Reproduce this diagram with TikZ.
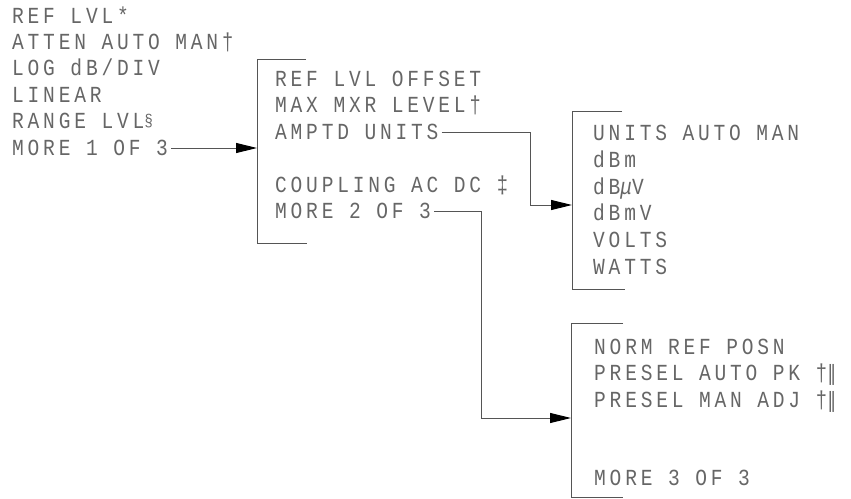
\documentclass[tikz,border=0pt]{standalone}
\usepackage{fontspec}
\setmainfont{Liberation Mono}[LetterSpace=16.5,FakeStretch=0.85]
\newfontfamily\dbar{DejaVu Sans}[FakeStretch=0.85]
\usetikzlibrary{arrows.meta,calc}
\definecolor{ink}{HTML}{666666}
\definecolor{lineink}{HTML}{555555}
\tikzset{
  lbl/.style={anchor=base west, inner sep=0pt, font=\fontsize{23}{23}\selectfont, text=ink},
  wire/.style={draw=lineink, line width=1pt},
  arr/.style={wire, -{Triangle[length=21pt,width=10pt,color=black]}},
}
\newcommand{\dblbar}{{\dbar\fontsize{21}{21}\selectfont ‖}}
\begin{document}
\begin{tikzpicture}[x=1pt,y=-1pt]
\useasboundingbox (0,0) rectangle (851,498);
% column 1
\node[lbl] (c1a) at (12,23)    {REF LVL*};
\node[lbl] (c1b) at (12,49.4)  {ATTEN AUTO MAN†};
\node[lbl] (c1c) at (12,75.8)  {LOG dB/DIV};
\node[lbl] (c1d) at (12,102.2) {LINEAR};
\node[lbl] (c1e) at (12,128.6) {RANGE LVL\raisebox{2pt}{\fontsize{17}{17}\selectfont §}};
\node[lbl] (c1f) at (12,155)   {MORE 1 OF 3};
% column 2
\node[lbl] (c2a) at (275,86)    {REF LVL OFFSET};
\node[lbl] (c2b) at (275,112.5) {MAX MXR LEVEL†};
\node[lbl] (c2c) at (275,139)   {AMPTD UNITS};
\node[lbl] (c2d) at (275,192)   {COUPLING AC DC ‡};
\node[lbl] (c2e) at (275,218.5) {MORE 2 OF 3};
% column 3
\node[lbl] (c3a) at (593,140) {UNITS AUTO MAN};
\node[lbl] (c3b) at (593,167) {dBm};
\node[lbl] (c3c) at (593,194) {dB{\itshape μ}V};
\node[lbl] (c3d) at (593,220) {dBmV};
\node[lbl] (c3e) at (593,247) {VOLTS};
\node[lbl] (c3f) at (593,274) {WATTS};
% column 4
\node[lbl] (c4a) at (594,354)   {NORM REF POSN};
\node[lbl] (c4b) at (594,380.5) {PRESEL AUTO PK †\dblbar};
\node[lbl] (c4c) at (594,407)   {PRESEL MAN ADJ †\dblbar};
\node[lbl] (c4d) at (594,485)   {MORE 3 OF 3};
% brackets
\coordinate (b2t) at (257,59);  \coordinate (b2b) at (257,243);
\coordinate (b3t) at (572,111); \coordinate (b3b) at (572,289);
\coordinate (b4t) at (571,323); \coordinate (b4b) at (571,497);
\draw[wire] (306,59) -- (b2t) -- (b2b) -- (307,243);
\draw[wire] (622,111) -- (b3t) -- (b3b) -- (625,289);
\draw[wire] (623,323) -- (b4t) -- (b4b) -- (623,497);
% connectors
\coordinate (a1) at ($(c1f.base east)+(3,-7)$);
\draw[arr] (a1) -- (a1 -| b2t);
\coordinate (a2) at ($(c2c.base east)+(3,-7)$);
\coordinate (k2) at (530,205);
\draw[arr] (a2) -| (k2) -- (k2 -| b3t);
\coordinate (a3) at ($(c2e.base east)+(3,-7)$);
\coordinate (k3) at (481,418);
\draw[arr] (a3) -| (k3) -- (k3 -| b4t);
\end{tikzpicture}
\end{document}
